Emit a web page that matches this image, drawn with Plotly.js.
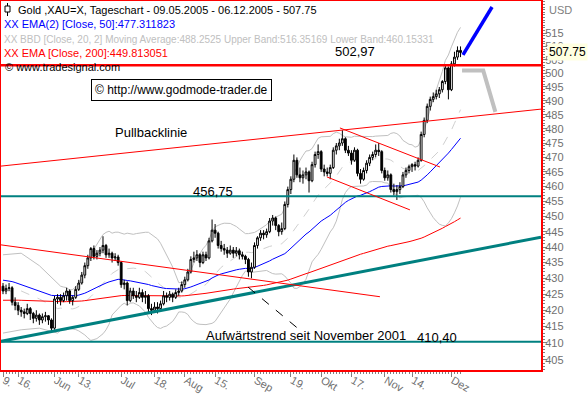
<!DOCTYPE html>
<html><head><meta charset="utf-8">
<script src="https://cdn.plot.ly/plotly-3.0.1.min.js"></script>
<style>html,body{margin:0;padding:0;background:#fff;overflow:hidden}#chart{width:588px;height:394px}</style>
</head><body><div id="chart"></div>
<script>
// ---------- data ----------
const tickIdx = [0,5,17,25,39,50,60,70,83,95,105,115,126,135,148];
const tickTxt = ["9.","16.","Jun","13.","Jul","18.","Aug","15.","Sep","19.","Okt","17.","Nov","14.","Dez"];

const open = [427.5,426,426.8,427,422.5,421.5,420,419.5,419,420.5,419,417.5,418.5,417,418,418.3,417,414.5,423.5,424,
423,424.5,426,423,424,426.5,428.5,431,434,436.5,439.5,437,438,439,440.5,437.5,438,436.5,436.8,435,
428,428.5,423,426,424.5,424,425.5,424,424.5,420.5,420,421,420.5,422,424.5,424,425,424,425.5,426,
428,429.5,432,436,436.5,437.5,435,437.5,436.5,442,445.5,444.5,440.5,439.5,439,438,439,438,438.8,437.5,
437,436,432,433.5,440.5,443,444.5,444,445,448.5,449.5,447,445,446,454,459,462.5,469,464,463,
464,465,462,467.5,471,472,466,465,464.5,466.5,472.5,474,475,476.5,472.5,471.5,469,472.5,464.5,462.5,
465.5,468,470,471,472.5,472,465.5,463,464,459,458.3,459,460,464,465.5,466.8,467.5,467,469,478,
483,488,490.5,491.5,492.5,494,497,502,494,503.5,506,508.5];
const high = [428.5,428,428.5,427.5,424,422.5,421,420.5,422,421,419.5,420,419,419,419.5,418.5,417.5,424.5,425,425,
425.5,427,426.5,424.5,427.5,429.5,432,435,437.5,440,440.5,439,440,443.5,441,439.5,438.5,438,437.5,435.5,
429.5,429,427,427,426,427,426.5,426,425,422,422.5,422.5,423,426,425.5,426,425.5,426.5,427,429,
430.5,433,437,438.5,439,438,438.5,438.5,443,449,447.5,445,442,441,440,440.5,440,440,439.5,438.5,
437.5,436.5,435,441.5,443.5,445.5,445.5,446,449.5,450.5,450,447.5,448,455,460,463.5,471,470,466.5,465.5,
466.5,465.5,468.5,472,474.5,472.5,467.5,466.5,467.5,473.5,475,476.5,479.5,477,474,472.5,473.5,473,466,466.5,
469,471,472,474.5,475,472.5,466.5,465.5,464.5,461,460.5,461.5,465,466.5,467.5,468,468.5,470,479,484,
489,491.5,493,494,495,497.5,503,502.5,504.5,508,510,510];
const low = [425,425,426,421.5,420,418.5,418,417.5,418.5,417,416,416.5,415.5,416,416.5,415.5,413.5,414,422,421.5,
422.5,423,422,421.5,423.5,426,428,430,433,435.5,436,436,437,438,436.5,436.5,435,435.5,434,427,
426.5,421.5,422.5,423.5,422.5,423.5,422.5,422,419,418.5,419.5,419,420,421.5,422.5,423,422.5,423.5,424.5,425.5,
427,429,431.5,435,435.5,433.5,434.5,435.5,436,441.5,443,439.5,438.5,437.5,436.5,437.5,436.5,437,436,436,
434.5,430.5,430,433,439.5,442,442.5,443,444.5,447,445.5,443.5,444,445.5,453,457.5,461.5,463,461.5,461,
462.5,458,461.5,466.5,469.5,465,463.5,463.5,462.5,466,471,472.5,474,471.5,470.5,467.5,468.5,463.5,461,462,
464.5,467,469,470,470.5,464.5,462,462,458,457,455.5,457.5,459.5,463,464.5,465,465.5,466.5,468.5,477,
482,486.5,489.5,490.5,491,493,496,490.5,493.5,502.5,505,506];
const close = [426,426.8,427,422.5,421.5,420,419.5,419,420.5,419,417.5,418.5,417,418,418.3,417,414.5,423.5,424,423,
424.5,426,423,424,426.5,428.5,431,434,436.5,439.5,437,438,439,440.5,437.5,438,436.5,436.8,435,428,
428.5,423,426,424.5,424,425.5,424,424.5,420.5,420,421,420.5,422,424.5,424,425,424,425.5,426,428,
429.5,432,436,436.5,437.5,435,437.5,436.5,442,445.5,444.5,440.5,439.5,439,438,439,438,438.8,437.5,437,
436,432,433.5,440.5,443,444.5,444,445,448.5,449.5,447,445,446,454,459,462.5,469,464,463,464,
465,462,467.5,471,472,466,465,464.5,466.5,472.5,474,475,476.5,472.5,471.5,469,472.5,464.5,462.5,465.5,
468,470,471,472.5,472,465.5,463,464,459,458.3,459,460,464,465.5,466.8,467.5,467,469,478,483,
488,490.5,491.5,492.5,494,497,502,494,503.5,506,508.5,507.75];

// indicator start values (prior history not visible)
const ema50Start = 429.4;
const ema200Start = 423.1;
const bbEarlyIdx = [0,6,12,18];
const bbEarlyUp  = [437.5,438,434,428.5];
const bbEarlyMid = [426,426,423.5,420.5];
const bbEarlyLo  = [413,414,414.5,413];

// drawn lines (price levels / trendlines)
const resist = 502.97, support1 = 456.75, support2 = 410.40;
const upTrendX = [-0.66,177.56], upTrendY = [410.5,443.2];
const pullX = [-0.66,177.56], pullY = [467.0,487.0];
const downX = [-0.66,124.4], downY = [440.7,424.2];
const chanUpX = [111.2,144.2], chanUpY = [480.3,466.7];
const chanLoX = [106.9,134.3], chanLoY = [463.3,452.2];
const pointerX = [80.9,98.0], pointerY = [427.2,413.9];
const projGrayX = [151.5,158.5,162.5], projGrayY = [501,501,486];
const projBlueX = [151.8,161.4], projBlueY = [506.8,525.0];

// ---------- derived indicators ----------
const n = close.length;
const idx = close.map((_, i) => i);
function ema(src, len, start) {
  const a = 2 / (len + 1); let e = start;
  return src.map((v, i) => { if (i > 0) e = e + a * (v - e); return e; });
}
const ema50 = ema(close, 50, ema50Start);
const ema200 = ema(close, 200, ema200Start);
const bbX = bbEarlyIdx.slice(), bbU = bbEarlyUp.slice(), bbM = bbEarlyMid.slice(), bbL = bbEarlyLo.slice();
for (let i = 19; i < n; i++) {
  const w = close.slice(i - 19, i + 1);
  const m = w.reduce((s, v) => s + v, 0) / 20;
  const sd = Math.sqrt(w.reduce((s, v) => s + (v - m) * (v - m), 0) / 20);
  bbX.push(i); bbU.push(m + 2 * sd); bbM.push(m); bbL.push(m - 2 * sd);
}

// ---------- layout helpers ----------
const XR = [-0.66, 177.56];
const YR = [Math.log10(401.93), Math.log10(527.33)];
const PX = p => (p - 1) / 540;
const PY = p => 1 - (p - 1) / 369;
const FONT = "Liberation Sans, Arial, sans-serif";
const GRAY = "#c0c0c0", TEAL = "#008080";

function line(x, y, color, width, yax, dash) {
  return {type: "scatter", mode: "lines", x: x, y: y, yaxis: yax, hoverinfo: "skip",
          line: {color: color, width: width, dash: dash || "solid"}};
}
const fullX = XR.slice();
const traces = [
  line(bbX, bbU, GRAY, 1, "y"),
  line(bbX, bbL, GRAY, 1, "y"),
  line(bbX, bbM, "#d0d0d0", 1, "y", "dash"),
  line(idx, ema200, "#ff0000", 1, "y"),
  line(idx, ema50, "#0000ff", 1, "y"),
  {type: "candlestick", x: idx, open: open, high: high, low: low, close: close, yaxis: "y2",
   whiskerwidth: 0, hoverinfo: "skip",
   increasing: {line: {color: "#000", width: 1}, fillcolor: "#fff"},
   decreasing: {line: {color: "#000", width: 1}, fillcolor: "#000"}},
  line(fullX, [support1, support1], TEAL, 2, "y3"),
  line(fullX, [support2, support2], TEAL, 2, "y3"),
  line(upTrendX, upTrendY, TEAL, 3, "y3"),
  line(pullX, pullY, "#ff0000", 1, "y3"),
  line(downX, downY, "#ff0000", 1, "y3"),
  line(chanUpX, chanUpY, "#ff0000", 1, "y3"),
  line(chanLoX, chanLoY, "#ff0000", 1, "y3"),
  line(pointerX, pointerY, "#000", 1, "y3", "dash"),
  line(fullX, [resist, resist], "#ff0000", 2.5, "y3"),
  line(projGrayX, projGrayY, GRAY, 4, "y3"),
  line(projBlueX, projBlueY, "#0000ff", 3.5, "y3")
];

const yTicks = [], yMinor = [];
for (let v = 405; v <= 515; v += 5) yTicks.push(v);
for (let v = 402; v <= 527; v += 1) yMinor.push(v);

function note(text, px, py, color, size, anchor, extra) {
  return Object.assign({text: text, xref: "paper", yref: "paper", x: PX(px), y: PY(py),
    xanchor: anchor || "left", yanchor: "middle", showarrow: false,
    font: {family: FONT, size: size || 11, color: color || "#000"}}, extra || {});
}

const annotations = [
  note("Gold ,XAU=X, Tageschart - 09.05.2005 - 06.12.2005 - 507.75", 16, 10, "#000", 11),
  note("XX EMA(2) [Close, 50]:477.311823", 2, 24, "#0000ff", 11),
  note("XX BBD [Close, 20, 2] Moving Average:488.2525 Upper Band:516.35169 Lower Band:460.15331", 2, 39, GRAY, 10),
  note("XX EMA [Close, 200]:449.813051", 2, 53, "#ff0000", 11),
  note("© www.tradesignal.com", 3, 67, "#000", 11),
  note("© http://www.godmode-trader.de", 181, 90, "#000", 12, "center",
       {bgcolor: "#fff", bordercolor: "#000", borderwidth: 1, borderpad: 3}),
  note("Pullbacklinie", 113, 132, "#000", 13),
  note("502,97", 333, 52, "#000", 13),
  note("456,75", 191, 191, "#000", 13),
  note("410,40", 415, 337, "#000", 13),
  note("Aufwärtstrend seit November 2001", 204, 335, "#000", 13),
  note("USD", 547, 10, "#808080", 11),
  {text: "507.75", xref: "paper", yref: "y", x: PX(547), y: Math.log10(close[n - 1]),
   xanchor: "left", yanchor: "middle", showarrow: false, bgcolor: "#ffffe1", borderpad: 1,
   font: {family: FONT, size: 12, color: "#000"}}
];

const shapes = [
  {type: "line", xref: "paper", yref: "paper", x0: PX(7.5), x1: PX(7.5), y0: PY(3), y1: PY(16), line: {color: "#000", width: 1}},
  {type: "rect", xref: "paper", yref: "paper", x0: PX(5), x1: PX(10), y0: PY(6), y1: PY(12), fillcolor: "#fff", line: {color: "#000", width: 1}}
];

const axY = {type: "log", range: YR, showgrid: false, zeroline: false, fixedrange: true};
const layout = {
  width: 588, height: 394, margin: {l: 1, r: 47, t: 1, b: 24},
  paper_bgcolor: "#fff", plot_bgcolor: "#fff", showlegend: false, hovermode: false,
  boxgap: 0.15,
  xaxis: {range: XR, showgrid: false, zeroline: false, rangeslider: {visible: false},
    tickmode: "array", tickvals: tickIdx, ticktext: tickTxt, ticks: "outside", ticklen: 5,
    tickcolor: "#808080", ticklabelposition: "outside right", ticklabelstandoff: -2,
    tickfont: {family: FONT, size: 11, color: "#707070"},
    minor: {tickvals: idx, ticks: "outside", ticklen: 2, tickcolor: "#808080"},
    showline: true, linecolor: "#ff0000", linewidth: 2, mirror: true, fixedrange: true},
  yaxis: Object.assign({}, axY, {side: "right", tickmode: "array", tickvals: yTicks,
    ticktext: yTicks.map(String), ticks: "outside", ticklen: 4, tickcolor: "#808080",
    tickfont: {family: FONT, size: 11, color: "#707070"}, ticklabelstandoff: -4,
    minor: {tickvals: yMinor, ticks: "outside", ticklen: 2, tickcolor: "#808080"},
    showline: true, linecolor: "#ff0000", linewidth: 2, mirror: true}),
  yaxis2: Object.assign({}, axY, {overlaying: "y", visible: false}),
  yaxis3: Object.assign({}, axY, {overlaying: "y", visible: false}),
  annotations: annotations, shapes: shapes
};
Plotly.newPlot("chart", traces, layout, {staticPlot: true, displayModeBar: false});
</script></body></html>
